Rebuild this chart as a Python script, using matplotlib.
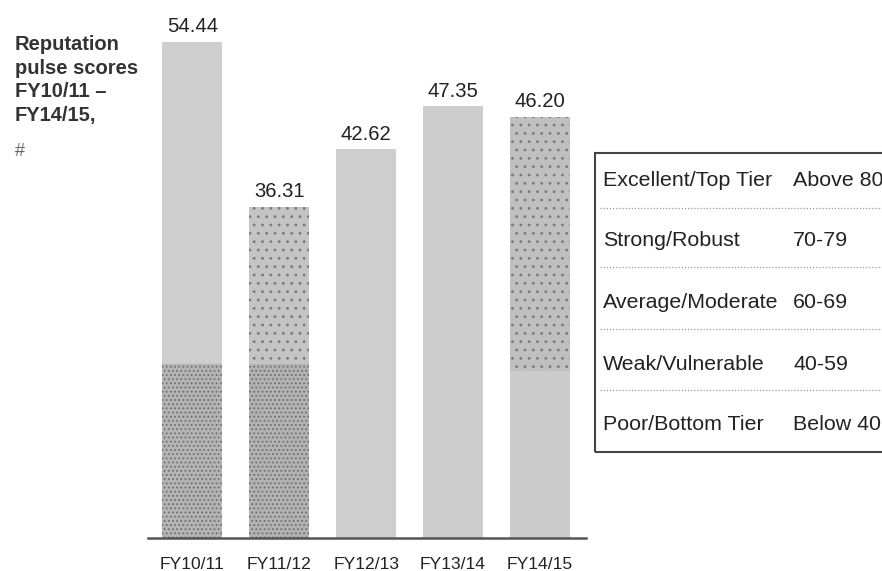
import matplotlib.pyplot as plt
from matplotlib.lines import Line2D
from matplotlib.patches import Rectangle

plt.rcParams['font.family'] = ['Liberation Sans', 'DejaVu Sans']
plt.rcParams['hatch.linewidth'] = 0.8

years = ['FY10/11', 'FY11/12', 'FY12/13', 'FY13/14', 'FY14/15']
scores = [54.44, 36.31, 42.62, 47.35, 46.20]
# shading of the scanned bars: lower part height and colours of the two parts
lower_part = [19.1, 19.1, 0, 0, 18.3]
lower_col = ['#b4b4b4', '#b2b2b2', '#cdcdcd', '#cdcdcd', '#cbcbcb']
upper_col = ['#cecece', '#c4c4c4', '#cecece', '#cdcdcd', '#c0c0c0']
lower_hatch = ['....', '....', None, None, None]
upper_hatch = [None, '..', None, None, '..']

tiers = ['Excellent/Top Tier', 'Strong/Robust', 'Average/Moderate',
         'Weak/Vulnerable', 'Poor/Bottom Tier']
ranges = ['Above 80', '70-79', '60-69', '40-59', 'Below 40']

W, H = 882, 571
fig = plt.figure(figsize=(W / 100, H / 100), dpi=100)

# bar chart area
ax = fig.add_axes([148 / W, 1 - 538 / H, (586 - 148) / W, (538 - 20) / H])
x = range(len(years))
upper = [s - l for s, l in zip(scores, lower_part)]
lo = ax.bar(x, lower_part, width=0.69, color=lower_col, edgecolor='#6f6f6f', linewidth=0)
hi = ax.bar(x, upper, bottom=lower_part, width=0.69, color=upper_col,
            edgecolor='#7a7a7a', linewidth=0)
for patch, h in zip(lo, lower_hatch):
    patch.set_hatch(h)
for patch, h in zip(hi, upper_hatch):
    patch.set_hatch(h)
for i, s in enumerate(scores):
    ax.text(i, s + 0.6, f'{s:.2f}', ha='center', va='bottom', fontsize=14.6, color='#222222')

ax.set_xlim(-0.51, 4.53)
ax.set_ylim(0, 56.8)
ax.set_xticks(list(x))
ax.set_xticklabels(years, fontsize=12.6, color='#222222')
ax.tick_params(axis='x', length=0, pad=14)
ax.set_yticks([])
for side in ['top', 'left', 'right']:
    ax.spines[side].set_visible(False)
ax.spines['bottom'].set_color('#555555')
ax.spines['bottom'].set_linewidth(1.8)

# title on the left
fig.text(15 / W, 1 - 35 / H, 'Reputation\npulse scores\nFY10/11 \u2013\nFY14/15,',
         fontsize=14.5, fontweight='bold', color='#333333', va='top', ha='left',
         linespacing=1.3)
fig.text(15 / W, 1 - 143 / H, '#', fontsize=13, color='#666666', va='top', ha='left')

# tier table on the right
box_l, box_t, box_b = 595, 153, 452
fig.add_artist(Rectangle((box_l / W, 1 - box_b / H), (W + 10 - box_l) / W,
                         (box_b - box_t) / H, transform=fig.transFigure,
                         fill=False, edgecolor='#444444', linewidth=1.5))
row_y = [180, 240, 302, 364, 425]
sep_y = [208, 267, 329, 390]
for name, rng, yy in zip(tiers, ranges, row_y):
    fig.text(603 / W, 1 - yy / H, name, fontsize=15.4, color='#222222', va='center')
    fig.text(793 / W, 1 - yy / H, rng, fontsize=15.4, color='#222222', va='center')
for yy in sep_y:
    fig.add_artist(Line2D([600 / W, 1], [1 - yy / H, 1 - yy / H],
                          transform=fig.transFigure, color='#999999',
                          linewidth=0.9, linestyle=(0, (1, 1.5))))

fig.savefig('out.png', dpi=100)
